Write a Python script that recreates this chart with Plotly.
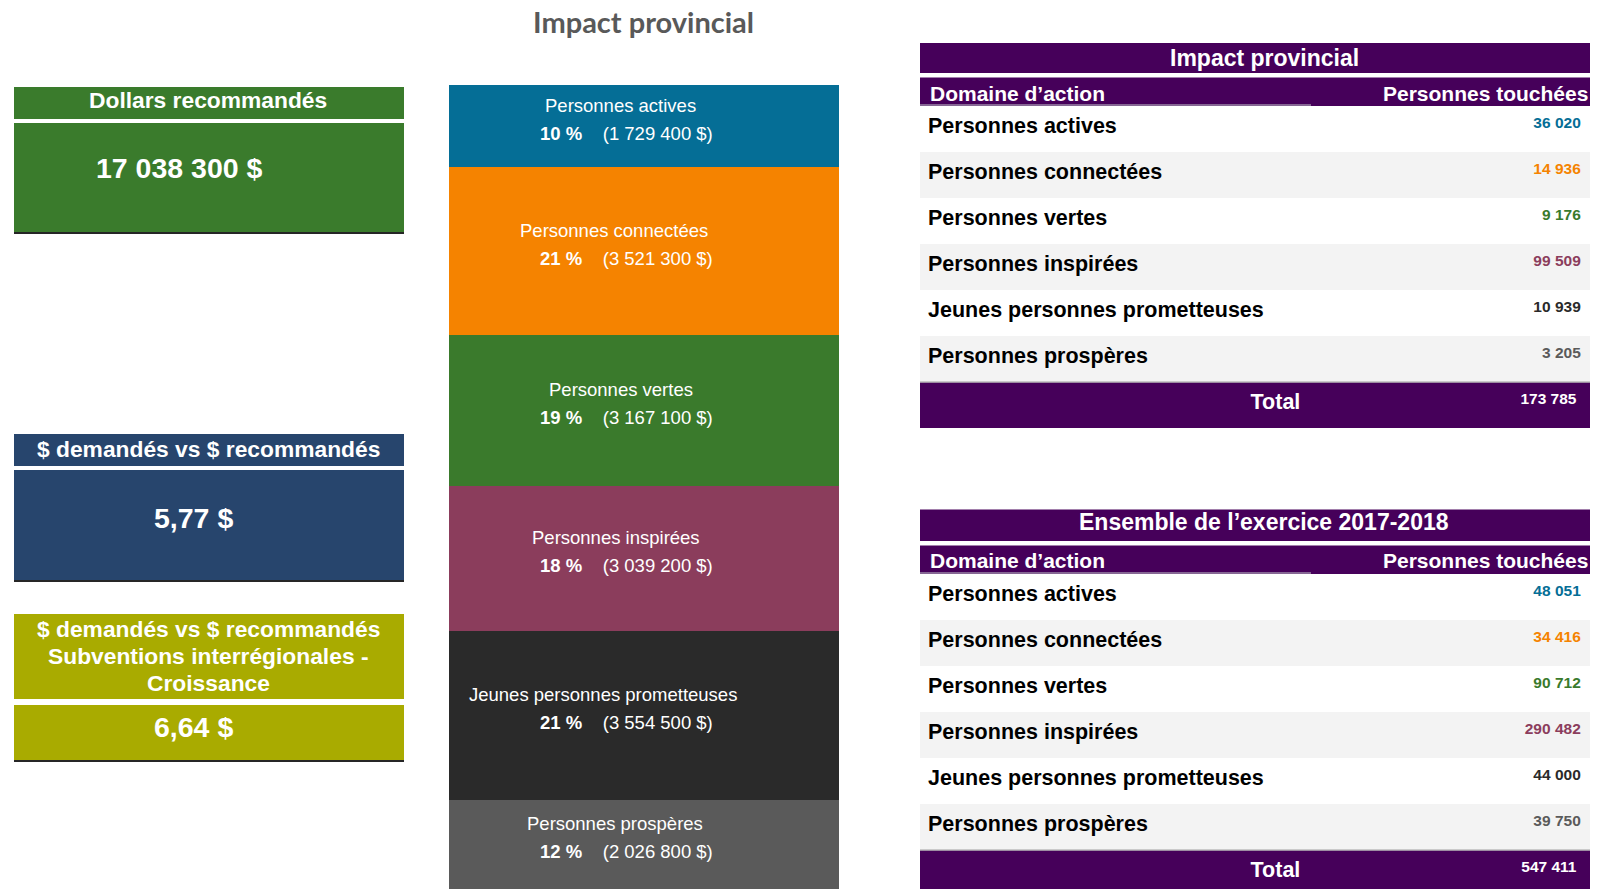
import plotly.graph_objects as go

W, H = 1598, 889
OFF = 8  # page body margin offset

# ---------------- data ----------------
domains = ["Personnes actives", "Personnes connectées", "Personnes vertes",
           "Personnes inspirées", "Jeunes personnes prometteuses", "Personnes prospères"]
share_pct = [10, 21, 19, 18, 21, 12]
dollars = [1729400, 3521300, 3167100, 3039200, 3554500, 2026800]
reach_provincial = [36020, 14936, 9176, 99509, 10939, 3205]
total_provincial = 173785
reach_year = [48051, 34416, 90712, 290482, 44000, 39750]
total_year = 547411
kpi_titles = ["Dollars recommandés",
              "$ demandés vs $ recommandés",
              "$ demandés vs $ recommandés<br>Subventions interrégionales -<br>Croissance"]
kpi_values = ["17 038 300 $", "5,77 $", "6,64 $"]
main_title = "Impact provincial"
table_titles = ["Impact provincial", "Ensemble de l’exercice 2017-2018"]
table_headers = ["Domaine d’action", "Personnes touchées"]
total_label = "Total"

# ---------------- styles ----------------
seg_colors = ["#056E96", "#F58300", "#3A7A2C", "#8B3D5C", "#2A2A2A", "#5A5A5A"]
seg_label_cx = [620, 614, 621, 616, 603, 615]
kpi_colors = ["#3A7B2C", "#27456D", "#A9AB00"]
PURPLE = "#46005A"
ROW_GREY = "#F3F3F3"
FONT = "Liberation Sans, Arial, sans-serif"
NB = "\u00a0"


def fmt(v):
    return f"{v:,}".replace(",", NB)


def px(x):
    return (x - OFF) / W


def py(y):
    return 1 - (y - OFF) / H


fig = go.Figure()

# ---------------- stacked bar ----------------
VIS_MAX = 16_880_000
for name, val, col in zip(domains, dollars, seg_colors):
    fig.add_trace(go.Bar(x=[0], y=[val], name=name, marker=dict(color=col, line=dict(width=0)),
                         width=1, hoverinfo="skip", showlegend=False,
                         xaxis="x", yaxis="y"))

annotations = []
shapes = []
start = 0
for name, val, pct, cx in zip(domains, dollars, share_pct, seg_label_cx):
    end = start + val
    mid = (start + min(end, VIS_MAX)) / 2
    annotations.append(dict(xref="paper", yref="y", x=px(cx), y=mid, yshift=21,
                            text=name, showarrow=False, xanchor="center", yanchor="middle",
                            font=dict(family=FONT, size=18.5, color="white")))
    annotations.append(dict(xref="paper", yref="y", x=px(538), y=mid, yshift=-7,
                            text=f"<b>{pct}{NB}%</b>{NB*4}({fmt(val)}{NB}$)",
                            showarrow=False, xanchor="left", yanchor="middle",
                            font=dict(family=FONT, size=18.5, color="white")))
    start = end

# main title
annotations.append(dict(xref="paper", yref="paper", x=px(643), y=py(22), text=main_title,
                        showarrow=False, xanchor="center", yanchor="middle",
                        font=dict(family="Lato, sans-serif", size=29, color="#595959", weight="bold")))

# ---------------- KPI boxes ----------------
kpi_boxes = [  # header y0,y1 ; body y0,y1 ; title y ; value x,y
    dict(h=(87, 119), b=(123, 233), ty=100, vx=179, vy=168),
    dict(h=(434, 466), b=(470, 581), ty=449, vx=193, vy=518),
    dict(h=(614, 699), b=(705, 761), ty=656, vx=193, vy=727),
]
LINE_GAP = 27
for title, value, col, g in zip(kpi_titles, kpi_values, kpi_colors, kpi_boxes):
    shapes.append(dict(type="rect", xref="paper", yref="paper", x0=px(14), x1=px(404),
                       y0=py(g["h"][1]), y1=py(g["h"][0]), fillcolor=col, line=dict(width=0), layer="below"))
    shapes.append(dict(type="rect", xref="paper", yref="paper", x0=px(14), x1=px(404),
                       y0=py(g["b"][1]), y1=py(g["b"][0]), fillcolor=col, line=dict(width=0), layer="below"))
    shapes.append(dict(type="line", xref="paper", yref="paper", x0=px(14), x1=px(404),
                       y0=py(g["b"][1]), y1=py(g["b"][1]), line=dict(color="#262626", width=2)))
    lines = title.split("<br>")
    k = len(lines)
    for i, line in enumerate(lines):
        ly = g["ty"] + (i - (k - 1) / 2) * LINE_GAP
        annotations.append(dict(xref="paper", yref="paper", x=px(208), y=py(ly), text=f"<b>{line}</b>",
                                showarrow=False, xanchor="center", yanchor="middle",
                                font=dict(family=FONT, size=22.8, color="white")))
    annotations.append(dict(xref="paper", yref="paper", x=px(g["vx"]), y=py(g["vy"]), text=f"<b>{value}</b>",
                            showarrow=False, xanchor="center", yanchor="middle",
                            font=dict(family=FONT, size=28.5, color="white")))

# ---------------- tables ----------------
tables = [
    dict(title=table_titles[0], vals=reach_provincial, total=total_provincial,
         bar=(43, 73), ty=58, head=(77.5, 106), hy=93, bottom=440),
    dict(title=table_titles[1], vals=reach_year, total=total_year,
         bar=(509.5, 541), ty=522, head=(545.5, 574), hy=560, bottom=H + OFF),
]
n = len(domains)
ROW_H = 46
EMPTY_HEAD = 16  # height plotly gives to the (empty) table header row
TOTAL_PAD = NB * 54
VAL_PAD = NB * 4
for tb in tables:
    # title bar
    shapes.append(dict(type="rect", xref="paper", yref="paper", x0=px(920), x1=1.0,
                       y0=py(tb["bar"][1]), y1=py(tb["bar"][0]), fillcolor=PURPLE,
                       line=dict(width=0), layer="below"))
    annotations.append(dict(xref="paper", yref="paper", x=px(1264), y=py(tb["ty"]),
                            text=f"<b>{tb['title']}</b>", showarrow=False,
                            xanchor="center", yanchor="middle",
                            font=dict(family=FONT, size=23, color="white")))
    # column header bar
    shapes.append(dict(type="rect", xref="paper", yref="paper", x0=px(920), x1=1.0,
                       y0=py(tb["head"][1]), y1=py(tb["head"][0]), fillcolor=PURPLE,
                       line=dict(width=0), layer="below"))
    shapes.append(dict(type="line", xref="paper", yref="paper", x0=px(920), x1=px(1311),
                       y0=py(tb["head"][1] - 1), y1=py(tb["head"][1] - 1),
                       line=dict(color="#9C8AA8", width=1.5)))
    annotations.append(dict(xref="paper", yref="paper", x=px(928), y=py(tb["hy"]),
                            text=f"<b>{table_headers[0]}</b>", showarrow=False,
                            xanchor="left", yanchor="middle",
                            font=dict(family=FONT, size=21, color="white")))
    annotations.append(dict(xref="paper", yref="paper", x=px(1590), y=py(tb["hy"]),
                            text=f"<b>{table_headers[1]}</b>", showarrow=False,
                            xanchor="right", yanchor="middle",
                            font=dict(family=FONT, size=21, color="white")))
    # rows
    row_fill = ["white" if i % 2 == 0 else ROW_GREY for i in range(n)] + [PURPLE]
    col1 = [f"<b>{d}</b>" for d in domains] + [f"{TOTAL_PAD}<b>{total_label}</b>"]
    col2 = [f"<b>{fmt(v)}</b>{VAL_PAD}" for v in tb["vals"]] + [f"<b>{fmt(tb['total'])}</b>{VAL_PAD}{NB}"]
    fig.add_trace(go.Table(
        domain=dict(x=[px(920), 1.0], y=[py(tb["bottom"]), py(tb["head"][1] - EMPTY_HEAD)]),
        columnwidth=[391, 295],
        header=dict(values=[], fill=dict(color=PURPLE), line=dict(width=0, color=PURPLE)),
        cells=dict(values=[col1, col2],
                   fill=dict(color=[row_fill, row_fill]),
                   line=dict(width=0, color="white"),
                   align=["left", "right"],
                   height=ROW_H,
                   font=dict(family=FONT, size=[21.5, 15.5],
                             color=[["black"] * n + ["white"], seg_colors + ["white"]])),
    ))
    # thin separator above the total row
    total_top = tb["head"][1] + n * ROW_H
    shapes.append(dict(type="line", xref="paper", yref="paper", x0=px(920), x1=1.0,
                       y0=py(total_top), y1=py(total_top),
                       line=dict(color="#BDBDBD", width=1.5)))

fig.update_layout(
    width=W, height=H, margin=dict(l=0, r=0, t=0, b=0),
    paper_bgcolor="white", plot_bgcolor="white",
    barmode="stack", bargap=0,
    xaxis=dict(domain=[px(449), px(839)], range=[-0.5, 0.5], visible=False, fixedrange=True),
    yaxis=dict(domain=[py(889), py(85)], range=[VIS_MAX, 0], visible=False, fixedrange=True),
    shapes=shapes, annotations=annotations,
)

fig.write_html("out.html")
